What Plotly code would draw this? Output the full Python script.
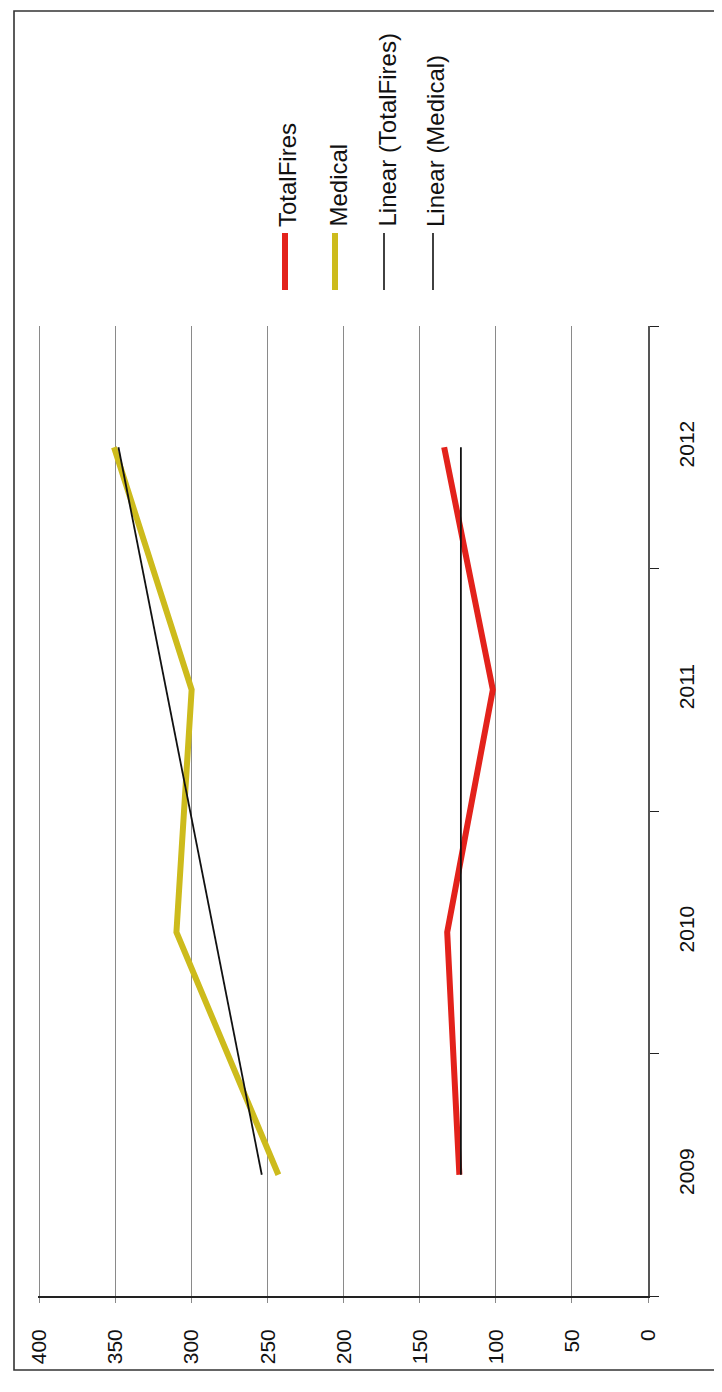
import numpy as np
import plotly.graph_objects as go

# ---- data ----
years = ["2009", "2010", "2011", "2012"]
total_fires = [124, 132, 102, 134]
medical = [243, 310, 300, 351]
value_ticks = [0, 50, 100, 150, 200, 250, 300, 350, 400]
legend_names = ["TotalFires", "Medical", "Linear (TotalFires)", "Linear (Medical)"]

# ---- linear trendlines computed from the data ----
idx = np.arange(len(years))
tf_fit = np.polyval(np.polyfit(idx, total_fires, 1), idx)
md_fit = np.polyval(np.polyfit(idx, medical, 1), idx)

OFF = 8  # default page body margin
W, H = 722 - OFF, 1392 - OFF
# plot area in page pixels: x 38..648, y 326..1296
L = 38 - OFF
R = W - (648 - OFF)
T = 326 - OFF
B = H - (1296 - OFF)
PW, PH = W - L - R, H - T - B


def px(x):
    return (x - OFF - L) / PW


def py(y):
    return (H - B - (y - OFF)) / PH


RED = "#e3221b"
YEL = "#cdbb1c"
FONT = "Liberation Sans"

fig = go.Figure()
fig.add_trace(go.Scatter(x=total_fires, y=years, mode="lines", name=legend_names[0],
                         line=dict(color=RED, width=6)))
fig.add_trace(go.Scatter(x=medical, y=years, mode="lines", name=legend_names[1],
                         line=dict(color=YEL, width=6)))
fig.add_trace(go.Scatter(x=tf_fit, y=years, mode="lines", name=legend_names[2],
                         line=dict(color="#111111", width=1.8)))
fig.add_trace(go.Scatter(x=md_fit, y=years, mode="lines", name=legend_names[3],
                         line=dict(color="#111111", width=1.8)))

fig.update_layout(
    width=W, height=H,
    margin=dict(l=L, r=R, t=T, b=B, autoexpand=False),
    paper_bgcolor="white", plot_bgcolor="white",
    showlegend=False,
    font=dict(family=FONT, size=21, color="#111111"),
    xaxis=dict(
        range=[401, 0], tickvals=value_ticks, ticktext=[str(v) for v in value_ticks],
        tickangle=-90, showgrid=True, gridcolor="#8a8a8a", gridwidth=1.4,
        zeroline=False, showline=True, linecolor="#222222", linewidth=1.6,
        ticks="outside", ticklen=5, tickcolor="#8a8a8a", ticklabelstandoff=18,
        automargin=False,
        tickfont=dict(family=FONT, size=21, color="#111111"),
    ),
    yaxis=dict(
        type="category", categoryorder="array", categoryarray=years,
        range=[-0.5, 3.5], side="right", tickangle=-90,
        showgrid=False, zeroline=False, showline=True, linecolor="#555555", linewidth=1.6,
        ticks="outside", tickson="boundaries", ticklen=9, tickcolor="#222222",
        ticklabelstandoff=19, automargin=False,
        tickfont=dict(family=FONT, size=21, color="#111111"),
    ),
)

shapes = []
# chart border
shapes.append(dict(type="rect", xref="paper", yref="paper",
                   x0=px(14), x1=px(715), y0=py(1370), y1=py(11),
                   line=dict(color="#333333", width=1.6)))
# legend
leg_x = [285, 335, 384, 433]
leg_col = [RED, YEL, "#111111", "#111111"]
leg_w = [6, 6, 1.6, 1.6]
annotations = []
for name, xx, c, w in zip(legend_names, leg_x, leg_col, leg_w):
    shapes.append(dict(type="line", xref="paper", yref="paper",
                       x0=px(xx), x1=px(xx), y0=py(290), y1=py(233),
                       line=dict(color=c, width=w)))
    annotations.append(dict(text=name, xref="paper", yref="paper",
                            x=px(xx + 3), y=py(229), xanchor="center", yanchor="bottom",
                            textangle=-90, showarrow=False,
                            font=dict(family=FONT, size=24, color="#111111")))
fig.update_layout(shapes=shapes, annotations=annotations)

fig.write_html("out.html")
